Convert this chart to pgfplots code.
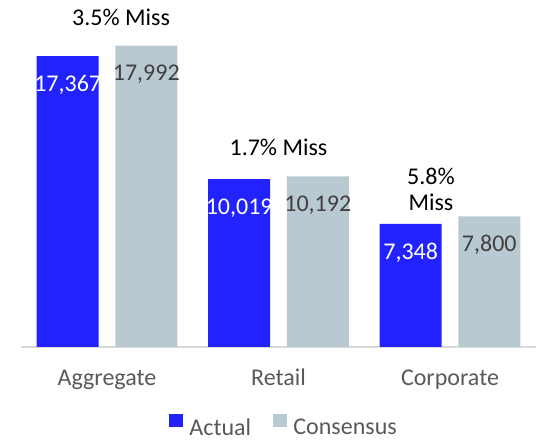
\documentclass[border=0pt]{standalone}
\usepackage{pgfplots}
\pgfplotsset{compat=1.18}
\usepackage{fontspec}
\setmainfont{Carlito}

\definecolor{actual}{HTML}{2222FF}
\definecolor{consensus}{HTML}{B8C9D1}
\definecolor{axisgray}{HTML}{D9D9D9}
\definecolor{ticktext}{HTML}{595959}
\definecolor{valtext}{HTML}{404040}

\newcommand{\lbl}{\fontsize{18}{21}\selectfont}

\begin{document}
\begin{tikzpicture}
\begin{axis}[
    at={(0pt,0pt)}, anchor=south west,
    scale only axis,
    width=385.9pt, height=260.25pt,
    xmin=-0.5, xmax=2.5,
    ymin=0, ymax=20723,
    ybar=12.45pt, bar width=46.5pt,
    axis x line*=bottom,
    axis y line=none,
    x axis line style={-, draw=axisgray, line width=1.1pt},
    xtick={0,1,2},
    xticklabels={Aggregate,Retail,Corporate},
    major tick length=0pt,
    xticklabel style={font=\lbl, text=ticktext, anchor=base, yshift=-29pt},
    nodes near coords,
    every node near coord/.append style={font=\lbl, anchor=center, yshift=-21.5pt},
    /pgf/number format/1000 sep={,},
    /pgf/number format/assume math mode=true,
    clip=false,
    legend columns=2,
    legend style={draw=none, fill=none, font=\lbl, text=ticktext,
        at={(0.509,0)}, anchor=south, yshift=-68pt,
        inner sep=0pt, nodes={inner sep=0pt},
        /tikz/every odd column/.append style={column sep=4.7pt},
        /tikz/every even column/.append style={column sep=16.7pt}},
    legend image code/.code={\fill[#1] (0pt,0.5pt) rectangle (10.3pt,10.8pt);},
]
\addplot[fill=actual, draw=none, nodes near coords style={text=white}]
    coordinates {(0,17367) (1,10019) (2,7348)};
\addplot[fill=consensus, draw=none, nodes near coords style={text=valtext}]
    coordinates {(0,17992) (1,10192) (2,7800)};
\legend{Actual, Consensus}

\node[font=\lbl, anchor=base] at (axis cs:0.082,19170) {3.5\% Miss};
\node[font=\lbl, anchor=base] at (axis cs:1.0,11407) {1.7\% Miss};
\node[font=\fontsize{18}{20}\selectfont, align=center] at (axis cs:1.889,9406) {5.8\%\\Miss};
\end{axis}
\pgfresetboundingbox
\path[use as bounding box] (-15.94pt,-70.5pt) rectangle (389.09pt,260.25pt);
\end{tikzpicture}
\end{document}
